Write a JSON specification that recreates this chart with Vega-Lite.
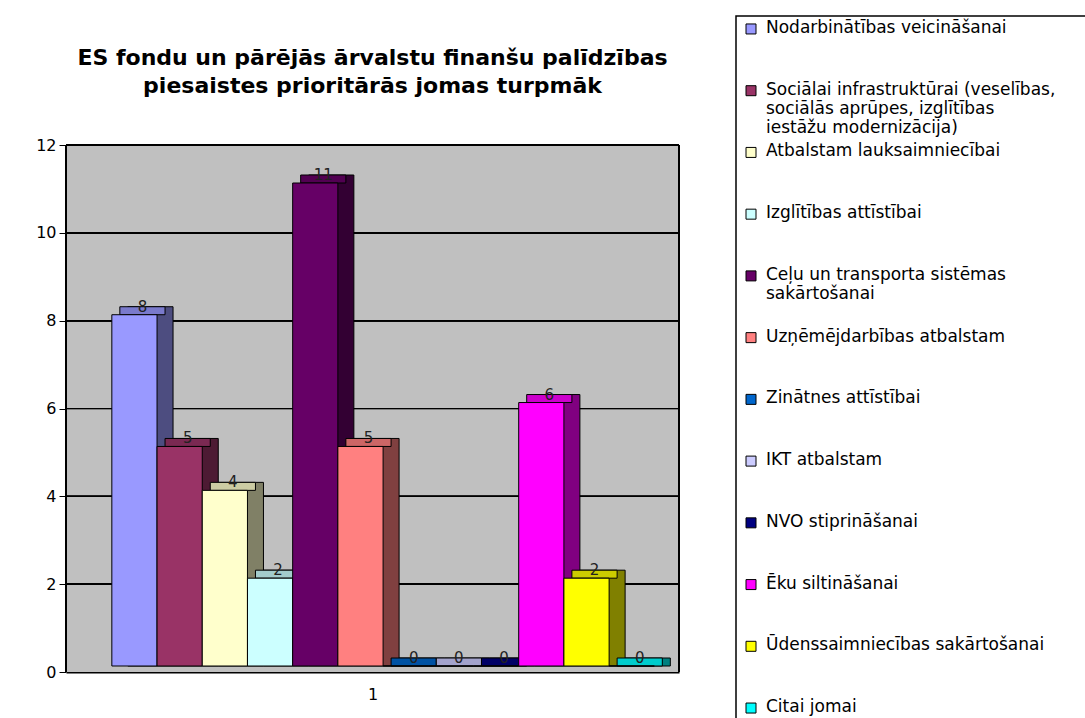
{
  "$schema": "https://vega.github.io/schema/vega-lite/v6.json",
  "padding": {"left": 35, "top": 15, "right": 0, "bottom": 0},
  "background": "white",
  "config": {"font": "DejaVu Sans", "view": {"stroke": null}},
  "datasets": {
    "d": [
      {"cat": "Nodarbinātības veicināšanai", "label": "Nodarbinātības veicināšanai", "value": 8},
      {"cat": "Sociālai infrastruktūrai", "label": "Sociālai infrastruktūrai (veselības,\nsociālās aprūpes, izglītības\niestāžu modernizācija)", "value": 5},
      {"cat": "Atbalstam lauksaimniecībai", "label": "Atbalstam lauksaimniecībai", "value": 4},
      {"cat": "Izglītības attīstībai", "label": "Izglītības attīstībai", "value": 2},
      {"cat": "Ceļu un transporta sistēmas sakārtošanai", "label": "Ceļu un transporta sistēmas\nsakārtošanai", "value": 11},
      {"cat": "Uzņēmējdarbības atbalstam", "label": "Uzņēmējdarbības atbalstam", "value": 5},
      {"cat": "Zinātnes attīstībai", "label": "Zinātnes attīstībai", "value": 0},
      {"cat": "IKT atbalstam", "label": "IKT atbalstam", "value": 0},
      {"cat": "NVO stiprināšanai", "label": "NVO stiprināšanai", "value": 0},
      {"cat": "Ēku siltināšanai", "label": "Ēku siltināšanai", "value": 6},
      {"cat": "Ūdenssaimniecības sakārtošanai", "label": "Ūdenssaimniecības sakārtošanai", "value": 2},
      {"cat": "Citai jomai", "label": "Citai jomai", "value": 0}
    ]
  },
  "spacing": 55,
  "hconcat": [
    {
      "width": 613,
      "height": 656,
      "title": {
        "text": ["ES fondu un pārējās ārvalstu finanšu palīdzības", "piesaistes prioritārās jomas turpmāk"],
        "fontSize": 22,
        "fontWeight": "bold",
        "lineHeight": 28,
        "anchor": "middle",
        "frame": "group",
        "offset": -82,
        "color": "black"
      },
      "data": {"name": "d"},
      "layer": [
        {
          "mark": {"type": "rect", "color": "#c0c0c0", "fill": "#c0c0c0", "opacity": 1, "fillOpacity": 1},
          "encoding": {
            "x": {"value": 0},
            "x2": {"value": "width"},
            "y": {"datum": 12, "type": "quantitative", "scale": {"domain": [0, 14.94], "nice": false}, "axis": {"values": [0, 2, 4, 6, 8, 10, 12], "domain": false, "grid": false, "tickColor": "black", "tickSize": 7, "labelFontSize": 16, "labelColor": "black", "labelPadding": 3, "title": null}},
            "y2": {"datum": 0}
          }
        },
        {"mark": {"type": "rule", "color": "black", "strokeWidth": 1}, "encoding": {"y": {"datum": 2}}},
        {"mark": {"type": "rule", "color": "black", "strokeWidth": 1}, "encoding": {"y": {"datum": 4}}},
        {"mark": {"type": "rule", "color": "black", "strokeWidth": 1}, "encoding": {"y": {"datum": 6}}},
        {"mark": {"type": "rule", "color": "black", "strokeWidth": 1}, "encoding": {"y": {"datum": 8}}},
        {"mark": {"type": "rule", "color": "black", "strokeWidth": 1}, "encoding": {"y": {"datum": 10}}},
        {"mark": {"type": "rule", "color": "black", "strokeWidth": 1}, "encoding": {"y": {"datum": 12}}},
        {
          "mark": {"type": "rule", "color": "black", "strokeWidth": 1.5},
          "encoding": {"x": {"value": 0}, "y": {"datum": 12}, "y2": {"datum": 0}}
        },
        {
          "mark": {"type": "rule", "color": "black", "strokeWidth": 1},
          "encoding": {"x": {"value": "width"}, "y": {"datum": 12}, "y2": {"datum": 0}}
        },
        {
          "mark": {"type": "bar", "xOffset": 16, "yOffset": -14, "y2Offset": -6, "stroke": "black", "strokeWidth": 1},
          "encoding": {
            "x": {
              "field": "cat", "type": "nominal", "sort": null,
              "scale": {"paddingInner": 0, "paddingOuter": 0.78, "align": 0.65},
              "axis": {"labels": false, "ticks": false, "title": "1", "titleFontSize": 16, "titleFontWeight": "normal", "titleColor": "black", "titlePadding": 14, "domainColor": "black", "domainWidth": 2}
            },
            "y": {"field": "value", "type": "quantitative"},
            "y2": {"datum": 0},
            "fill": {"field": "cat", "type": "nominal", "sort": null, "legend": null,
              "scale": {"domain": ["Nodarbinātības veicināšanai", "Sociālai infrastruktūrai", "Atbalstam lauksaimniecībai", "Izglītības attīstībai", "Ceļu un transporta sistēmas sakārtošanai", "Uzņēmējdarbības atbalstam", "Zinātnes attīstībai", "IKT atbalstam", "NVO stiprināšanai", "Ēku siltināšanai", "Ūdenssaimniecības sakārtošanai", "Citai jomai"],
                "range": ["#4d4d80", "#4d1a33", "#808066", "#668080", "#330033", "#804040", "#003366", "#666680", "#000040", "#800080", "#808000", "#008080"]}}
          }
        },
        {
          "mark": {"type": "bar", "xOffset": 8, "yOffset": -14, "y2Offset": -6, "stroke": "black", "strokeWidth": 1},
          "encoding": {
            "x": {"field": "cat", "type": "nominal", "sort": null},
            "y": {"field": "value", "type": "quantitative"},
            "y2": {"field": "value"},
            "fill": {"field": "cat", "type": "nominal", "sort": null, "legend": null,
              "scale": {"domain": ["Nodarbinātības veicināšanai", "Sociālai infrastruktūrai", "Atbalstam lauksaimniecībai", "Izglītības attīstībai", "Ceļu un transporta sistēmas sakārtošanai", "Uzņēmējdarbības atbalstam", "Zinātnes attīstībai", "IKT atbalstam", "NVO stiprināšanai", "Ēku siltināšanai", "Ūdenssaimniecības sakārtošanai", "Citai jomai"],
                "range": ["#7a7acc", "#7a2952", "#cccca3", "#a3cccc", "#520052", "#cc6666", "#0052a3", "#a3a3cc", "#000066", "#cc00cc", "#cccc00", "#00cccc"]}}
          }
        },
        {
          "mark": {"type": "bar", "yOffset": -6, "y2Offset": -6, "stroke": "black", "strokeWidth": 1},
          "encoding": {
            "x": {"field": "cat", "type": "nominal", "sort": null},
            "y": {"field": "value", "type": "quantitative"},
            "y2": {"datum": 0},
            "fill": {"field": "cat", "type": "nominal", "sort": null, "legend": null,
              "scale": {"domain": ["Nodarbinātības veicināšanai", "Sociālai infrastruktūrai", "Atbalstam lauksaimniecībai", "Izglītības attīstībai", "Ceļu un transporta sistēmas sakārtošanai", "Uzņēmējdarbības atbalstam", "Zinātnes attīstībai", "IKT atbalstam", "NVO stiprināšanai", "Ēku siltināšanai", "Ūdenssaimniecības sakārtošanai", "Citai jomai"],
                "range": ["#9999ff", "#993366", "#ffffcc", "#ccffff", "#660066", "#ff8080", "#0066cc", "#ccccff", "#000080", "#ff00ff", "#ffff00", "#00ffff"]}}
          }
        },
        {
          "mark": {"type": "text", "xOffset": 8, "yOffset": -9, "baseline": "alphabetic", "fontSize": 15, "color": "#222222"},
          "encoding": {
            "x": {"field": "cat", "type": "nominal", "sort": null},
            "y": {"field": "value", "type": "quantitative"},
            "text": {"field": "value", "type": "quantitative"}
          }
        }
      ],
      "resolve": {"scale": {"fill": "independent"}}
    },
    {
      "width": 350,
      "height": 705,
      "view": {"stroke": "black", "strokeWidth": 1.5, "fill": null},
      "data": {"name": "d"},
      "encoding": {
        "y": {"field": "cat", "type": "nominal", "sort": null, "scale": {"type": "point", "padding": 0.21}, "axis": null},
        "x": {"datum": 1.5, "type": "quantitative", "scale": {"domain": [0, 35]}, "axis": null}
      },
      "layer": [
        {
          "mark": {"type": "point", "shape": "square", "size": 100, "filled": true, "stroke": "black", "strokeWidth": 1, "opacity": 1},
          "encoding": {
            "fill": {"field": "cat", "type": "nominal", "sort": null, "legend": null,
              "scale": {"domain": ["Nodarbinātības veicināšanai", "Sociālai infrastruktūrai", "Atbalstam lauksaimniecībai", "Izglītības attīstībai", "Ceļu un transporta sistēmas sakārtošanai", "Uzņēmējdarbības atbalstam", "Zinātnes attīstībai", "IKT atbalstam", "NVO stiprināšanai", "Ēku siltināšanai", "Ūdenssaimniecības sakārtošanai", "Citai jomai"],
                "range": ["#9999ff", "#993366", "#ffffcc", "#ccffff", "#660066", "#ff8080", "#0066cc", "#ccccff", "#000080", "#ff00ff", "#ffff00", "#00ffff"]}}
          }
        },
        {
          "mark": {"type": "text", "align": "left", "baseline": "top", "dx": 15, "dy": -9, "fontSize": 17, "lineHeight": 19, "lineBreak": "\n", "color": "black"},
          "encoding": {"text": {"field": "label", "type": "nominal"}}
        }
      ]
    }
  ]
}
